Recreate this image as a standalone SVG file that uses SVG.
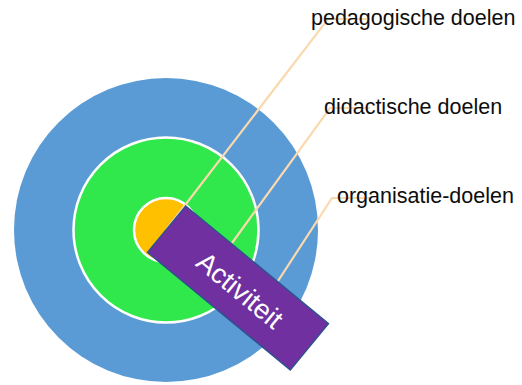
<svg xmlns="http://www.w3.org/2000/svg" width="522" height="385" viewBox="0 0 522 385">
<style>
.lbl{font-family:"Liberation Sans",Arial,sans-serif;font-size:21.5px;fill:#0d0d0d}
.conn{fill:none;stroke:#FBD9AE;stroke-width:2.2}
</style>
<rect width="522" height="385" fill="#fff"/>
<g id="ring-outer"><circle cx="166" cy="230" r="152" fill="#5B9BD5"/></g>
<g id="ring-middle"><circle cx="166" cy="230" r="92.5" fill="#30E84B" stroke="#fff" stroke-width="2.5"/></g>
<g id="ring-inner"><circle cx="166" cy="230" r="32" fill="#FFC000" stroke="#fff" stroke-width="2.5"/></g>
<g id="connectors">
<polyline class="conn" points="166,230 328,19 370,19"/>
<polyline class="conn" points="232,243 330,108 370,108"/>
<polyline class="conn" points="278,281 332,198 372,198"/>
</g>
<g id="activiteit" transform="translate(238,288) rotate(39.5)">
<rect x="-92.5" y="-30" width="185" height="60" fill="#7030A0" stroke="#2F528F" stroke-width="1.5"/>
<text x="3" y="10" text-anchor="middle" font-family="'Liberation Sans',Arial,sans-serif" font-size="27.5" fill="#fff">Activiteit</text>
</g>
<g id="label-pedagogisch"><text class="lbl" x="311" y="25">pedagogische doelen</text></g>
<g id="label-didactisch"><text class="lbl" x="324" y="114">didactische doelen</text></g>
<g id="label-organisatie"><text class="lbl" x="337" y="203">organisatie-doelen</text></g>
</svg>
